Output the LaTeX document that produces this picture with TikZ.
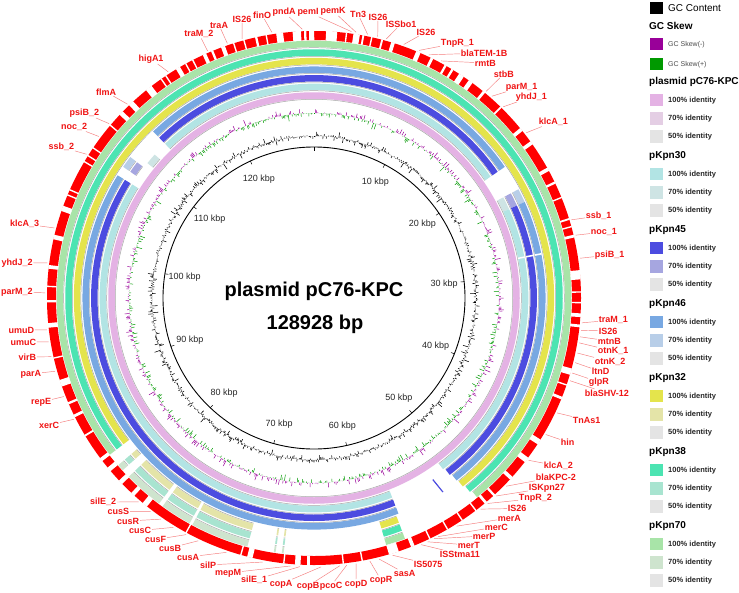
\documentclass[tikz,border=0pt]{standalone}
\usepackage{fontspec}
\setmainfont{Liberation Sans}
\definecolor{labred}{RGB}{240,20,20}
\definecolor{leadred}{RGB}{245,125,125}
\definecolor{featred}{RGB}{255,0,0}
\definecolor{pcA}{RGB}{228,178,228}
\definecolor{pcB}{RGB}{228,206,228}
\definecolor{gC}{RGB}{228,228,228}
\definecolor{kA30}{RGB}{178,228,228}
\definecolor{kB30}{RGB}{206,228,228}
\definecolor{kA45}{RGB}{76,76,224}
\definecolor{kB45}{RGB}{166,166,224}
\definecolor{kA46}{RGB}{120,168,226}
\definecolor{kB46}{RGB}{184,206,232}
\definecolor{kA32}{RGB}{228,228,76}
\definecolor{kB32}{RGB}{228,228,168}
\definecolor{kA38}{RGB}{76,228,178}
\definecolor{kB38}{RGB}{168,228,208}
\definecolor{kA70}{RGB}{168,228,168}
\definecolor{kB70}{RGB}{206,228,206}
\definecolor{skewM}{RGB}{153,0,153}
\definecolor{skewP}{RGB}{0,153,0}
% band segment: colour, radius, theta1, theta2 (degrees clockwise from top)
\newcommand\ringseg[4]{%
  \pgfmathsetmacro\phA{90-(#3)}%
  \pgfmathsetmacro\phB{90-(#4)}%
  \pgfmathsetmacro\rgl{#2-3.8}%
  \draw[line width=6.5pt,draw=#1] ([shift={(314,-298)}]\phA:#2pt) arc[start angle=\phA,end angle=\phB,radius=#2pt];
  \draw[line width=0.5pt,draw=black!35] ([shift={(314,-298)}]\phA:\rgl pt) arc[start angle=\phA,end angle=\phB,radius=\rgl pt];
}
% white gap in the feature ring: theta, width
\newcommand\rgap[2]{%
  \pgfmathsetmacro\phA{90-(#1)+(#2)/2}%
  \pgfmathsetmacro\phB{90-(#1)-(#2)/2}%
  \draw[line width=9.8pt,white] ([shift={(314,-298)}]\phA:262.5pt) arc[start angle=\phA,end angle=\phB,radius=262.5pt];
}
% gene label: [anchor] name, x, y, text, theta of feature
\newcommand\glab[6][center]{%
  \node[lab,anchor=#1] (#2) at (#3,-#4) {#5};
  \pgfmathsetmacro\phL{90-(#6)}%
  \coordinate (#2e) at ([shift={(314,-298)}]\phL:269pt);
  \draw[lead] (#2) -- (#2e);
}
% legend block: name id, header y, header text, colour 100, colour 70
\newcommand\legblock[5]{%
  \node[lhead] (#1h) at (649,-#2) {#3};
  \fill[#4] (650,-#2-11.75) rectangle ++(12.5,-12.5);
  \fill[#5] (650,-#2-30.25) rectangle ++(12.5,-12.5);
  \fill[gC] (650,-#2-48.25) rectangle ++(12.5,-12.5);
  \node[ltxt] (#1a) at (668,-#2-18.5) {100\% identity};
  \node[ltxt] (#1b) at (668,-#2-37) {70\% identity};
  \node[ltxt] (#1c) at (668,-#2-55) {50\% identity};
}
\begin{document}
\begin{tikzpicture}[x=1pt,y=1pt,
  lab/.style={font=\bfseries\fontsize{9}{10}\selectfont,text=labred,inner sep=0.6pt},
  lead/.style={draw=leadred,line width=0.45pt},
  ticklab/.style={font=\fontsize{9}{10}\selectfont,text=black!85,inner sep=0pt},
  lhead/.style={font=\bfseries\fontsize{10}{12}\selectfont,anchor=west,inner sep=0pt},
  ltxt/.style={font=\bfseries\fontsize{7.5}{9}\selectfont,anchor=west,inner sep=0pt,text=black!85},
  lsmall/.style={font=\fontsize{7}{8}\selectfont,anchor=west,inner sep=0pt,text=black!70}]
\useasboundingbox (0,0) rectangle (739,-592);
\fill[white] (0,0) rectangle (739,-592);

% ---------------- GC content ----------------
\pgfmathsetseed{7}
\foreach \i in {0,...,899}{
  \pgfmathsetmacro\ph{90-0.4*\i}
  \pgfmathsetmacro\rr{162+rand*(1.5+7*rnd*rnd)}
  \draw[black,line width=0.55pt] ([shift={(314,-298)}]\ph:162pt) -- ([shift={(314,-298)}]\ph:\rr pt);
}
% ---------------- GC skew ----------------
\foreach \i in {0,...,899}{
  \pgfmathsetmacro\ph{90-0.4*\i}
  \pgfmathsetmacro\sv{rand*(1.5+5.5*rnd)}
  \pgfmathsetmacro\rr{185+\sv}
  \ifdim\sv pt>0pt \def\cc{skewM}\else\def\cc{skewP}\fi
  \draw[\cc,line width=0.5pt] ([shift={(314,-298)}]\ph:185pt) -- ([shift={(314,-298)}]\ph:\rr pt);
}

% ---------------- inner scale circle ----------------
\draw[black,line width=0.9pt] (314,-298) circle[radius=151pt];
\foreach \k in {0,...,12}{
  \pgfmathsetmacro\ph{90-27.923*\k}
  \draw[black,line width=0.5pt] ([shift={(314,-298)}]\ph:151pt) -- ([shift={(314,-298)}]\ph:147.5pt);
}
\foreach \k in {1,...,12}{
  \pgfmathsetmacro\ph{90-27.923*\k}
  \node[ticklab] (t\k) at ([shift={(314,-298)}]\ph:131pt) {\k0 kbp};
}
\node[font=\bfseries\fontsize{20}{22}\selectfont,inner sep=0pt] (title) at (314,-291.5) {plasmid pC76-KPC};
\node[font=\bfseries\fontsize{20}{22}\selectfont,inner sep=0pt] (size) at (315,-324) {128928 bp};

% ---------------- BLAST rings ----------------
% plasmid pC76-KPC
\ringseg{pcA}{202.5}{0}{360}
% pKpn30, pKpn45, pKpn46
\foreach \c/\d/\r/\e in {kA30/kB30/211.1/143,kA45/kB45/219.7/142.5,kA46/kB46/228.3/142}{
  \ringseg{\c}{\r}{-44}{55.5}
  \ringseg{\d}{\r}{62}{65.5}
  \ringseg{\c}{\r}{65.5}{\e}
  \ringseg{\c}{\r}{158.6}{302}
  \pgfmathsetmacro\phA{90-78.8}\pgfmathsetmacro\phB{90-79.2}
  \draw[line width=7pt,white] ([shift={(314,-298)}]\phA:\r pt) arc[start angle=\phA,end angle=\phB,radius=\r pt];
}
\ringseg{kB30}{211.1}{309}{312}
\ringseg{kB45}{219.7}{304.5}{307.5}
\ringseg{kB46}{228.3}{304.5}{307.5}
\draw[kA45,line width=1.2pt] ([shift={(314,-298)}]{90-146.8}:217pt) -- ([shift={(314,-298)}]{90-146.4}:233pt);
% pKpn32, pKpn38, pKpn70
\foreach \c/\d/\r/\e in {kA32/kB32/236.9/501.7,kA38/kB38/245.5/501.2,kA70/kB70/254.1/500.7}{
  \ringseg{\c}{\r}{232.5}{\e}
  \ringseg{\c}{\r}{159.3}{163.7}
  \ringseg{\d}{\r}{186.8}{187.2}
  \ringseg{\d}{\r}{188.6}{189.0}
  \ringseg{\d}{\r}{195}{208.2}
  \ringseg{\d}{\r}{208.9}{216}
  \ringseg{\d}{\r}{217}{226}
  \ringseg{\d}{\r}{228}{229.5}
}

% ---------------- feature ring ----------------
\draw[featred,line width=9pt] (314,-298) circle[radius=262.5pt];
\foreach \a/\w in {-38.2/1.5,-34.9/0.3,-33.7/0.3,-30.6/1.0,-28.7/0.3,-27.0/0.3,-24.2/0.8,-22.4/0.5,-19.9/0.9,-17.5/0.3,-15.2/0.3,-12.5/0.5,-10.3/0.3,-7.4/1.5,-3.7/1.8,-1.9/0.5,-0.5/1.1,3.8/2.4,7.0/0.3,9.2/1.4,10.65/0.4,12.5/0.3,14.8/0.4,17.2/0.8,23/1.0,26.2/0.6,29.5/0.5,31.2/0.5,33.5/1.2,35.9/1.0,39.5/0.6,44.4/0.4,50.9/0.8,54.5/0.8,61.2/0.8,64.4/0.5,67.9/0.3,72.8/0.4,74.5/0.3,76.6/0.6,85/2.0,88.7/0.3,91/0.3,93.7/0.8,96/0.6,106/1.4,109/0.3,112/0.6,122.6/1.2,127.3/1.2,132.4/0.8,137.6/0.5,140/0.6,142.7/0.3,146.3/0.3,150/0.3,154.3/0.3,158.3/0.8,162.6/2.2,169.6/0.3,173.7/0.3,181.2/0.6,183.5/1.2,186.5/0.3,193.9/1.2,195.9/0.3,208.6/0.3,219.3/1.2,222.7/0.9,226.4/1.0,230.1/1.0,232.8/0.8,239/0.4,243.8/0.6,246.8/0.5,251.4/1.5,257/0.3,264.1/1.0,269.3/0.5,272.5/0.3,276.7/0.8,283.2/1.0,289.6/1.2,292.7/0.3,293.9/0.3,300.7/0.3,302.2/0.3,304.2/0.3,310.3/0.3,313.8/1.0,316.8/1.2}{
  \rgap{\a}{\w}
}

% ---------------- gene labels ----------------
\glab{gA}{151}{59}{higA1}{-32.8}
\glab{gB}{199}{34}{traM\_2}{-23.3}
\glab{gC}{219}{25}{traA}{-18.8}
\glab{gD}{242}{19}{IS26}{-15.5}
\glab{gE}{262}{15}{finO}{-9.0}
\glab{gF}{284}{12}{pndA}{-2.5}
\glab{gG}{308}{12}{pemI}{8.0}
\glab{gH}{333}{11}{pemK}{9.0}
\glab{gI}{358}{14}{Tn3}{11.5}
\glab{gJ}{378}{17}{IS26}{13.7}
\glab{gK}{401}{24}{ISSbo1}{15.6}
\glab{gL}{426}{32}{IS26}{19.5}
\glab[west]{gM}{440}{43}{TnpR\_1}{23.0}
\glab[west]{gN}{460}{53}{blaTEM-1B}{25.3}
\glab[west]{gO}{474}{63}{rmtB}{28.2}
\glab[west]{gP}{493}{74}{stbB}{39.8}
\glab[west]{gQ}{505}{87}{parM\_1}{41.4}
\glab[west]{gR}{515}{97}{yhdJ\_1}{44.7}
\glab[west]{gS}{538}{122}{klcA\_1}{52.1}
\glab[west]{gT}{585}{216}{ssb\_1}{73.1}
\glab[west]{gU}{590}{232}{noc\_1}{76.5}
\glab[west]{gV}{594}{255}{psiB\_1}{81.5}
\glab[west]{gW}{598}{320}{traM\_1}{95.3}
\glab[west]{gX}{598}{331}{IS26}{96.9}
\glab[west]{gY}{597}{341}{mtnB}{98.3}
\glab[west]{gZ}{597}{351}{otnK\_1}{99.6}
\glab[west]{hA}{594}{361.5}{otnK\_2}{101.8}
\glab[west]{hB}{591}{371.5}{ltnD}{103.9}
\glab[west]{hC}{588}{382}{glpR}{106.2}
\glab[west]{hD}{584}{393}{blaSHV-12}{107.9}
\glab[west]{hE}{572}{420}{TnAs1}{115.3}
\glab[west]{hF}{560}{442}{hin}{120.5}
\glab[west]{hG}{543}{466}{klcA\_2}{127.1}
\glab[west]{hH}{535}{477}{blaKPC-2}{134.4}
\glab[west]{hI}{528}{488}{ISKpn27}{137.4}
\glab[west]{hJ}{518}{498.5}{TnpR\_2}{139.8}
\glab[west]{hK}{507}{508.5}{IS26}{141.7}
\glab[west]{hL}{497}{518}{merA}{148}
\glab[west]{hM}{484}{527}{merC}{152.5}
\glab[west]{hN}{472}{536}{merP}{153.5}
\glab[west]{hO}{457}{545}{merT}{155}
\glab[west]{hP}{439}{554}{ISStma11}{156.5}
\glab[west]{hQ}{413}{564}{IS5075}{163}
\glab[west]{hR}{393}{573}{sasA}{166}
\glab{hS}{381}{580}{copR}{168}
\glab{hT}{356}{584}{copD}{171}
\glab{hU}{331}{586}{pcoC}{173}
\glab{hV}{308}{586}{copB}{174.5}
\glab{hW}{281}{584}{copA}{178.5}
\glab[east]{hX}{268}{580}{silE\_1}{183}
\glab[east]{hY}{242}{573}{mepM}{185}
\glab[east]{hZ}{217}{565}{silP}{191}
\glab[east]{iA}{200}{557}{cusA}{199}
\glab[east]{iB}{182}{548}{cusB}{205.5}
\glab[east]{iC}{167}{539.5}{cusF}{208.4}
\glab[east]{iD}{152}{530.5}{cusC}{211.5}
\glab[east]{iE}{140}{521}{cusR}{214.7}
\glab[east]{iF}{130}{511.5}{cusS}{217.4}
\glab[east]{iG}{117}{502}{silE\_2}{220.7}
\glab[east]{iH}{60}{425}{xerC}{243.2}
\glab[east]{iI}{52}{402}{repE}{248.5}
\glab[east]{iJ}{42}{374}{parA}{254.2}
\glab[east]{iK}{37}{357}{virB}{257.4}
\glab[east]{iL}{37}{342}{umuC}{260.6}
\glab[east]{iM}{35}{330}{umuD}{263.2}
\glab[east]{iN}{33.5}{292}{parM\_2}{271.1}
\glab[east]{iO}{33.5}{263}{yhdJ\_2}{277.5}
\glab[east]{iP}{40}{224}{klcA\_3}{285.1}
\glab[east]{iQ}{75}{147}{ssb\_2}{302.3}
\glab[east]{iR}{88}{127}{noc\_2}{306.9}
\glab[east]{iS}{100}{113}{psiB\_2}{310.4}
\glab[east]{iT}{117}{92}{flmA}{316.1}

% ---------------- legend ----------------
\fill[black] (650,-1.5) rectangle ++(12.5,-12.5);
\node[font=\fontsize{10}{12}\selectfont,anchor=west,inner sep=0pt] (lgc) at (668,-8) {GC Content};
\node[lhead] (lsk) at (649,-26) {GC Skew};
\fill[skewM] (650,-37.5) rectangle ++(12.5,-12.5);
\node[lsmall] (lskm) at (668,-44.5) {GC Skew(-)};
\fill[skewP] (650,-57.5) rectangle ++(12.5,-12.5);
\node[lsmall] (lskp) at (668,-64.5) {GC Skew(+)};
\legblock{la}{82}{plasmid pC76-KPC}{pcA}{pcB}
\legblock{lb}{156}{pKpn30}{kA30}{kB30}
\legblock{lc}{230}{pKpn45}{kA45}{kB45}
\legblock{ld}{304}{pKpn46}{kA46}{kB46}
\legblock{le}{378}{pKpn32}{kA32}{kB32}
\legblock{lf}{452}{pKpn38}{kA38}{kB38}
\legblock{lg}{526}{pKpn70}{kA70}{kB70}
\end{tikzpicture}
\end{document}
